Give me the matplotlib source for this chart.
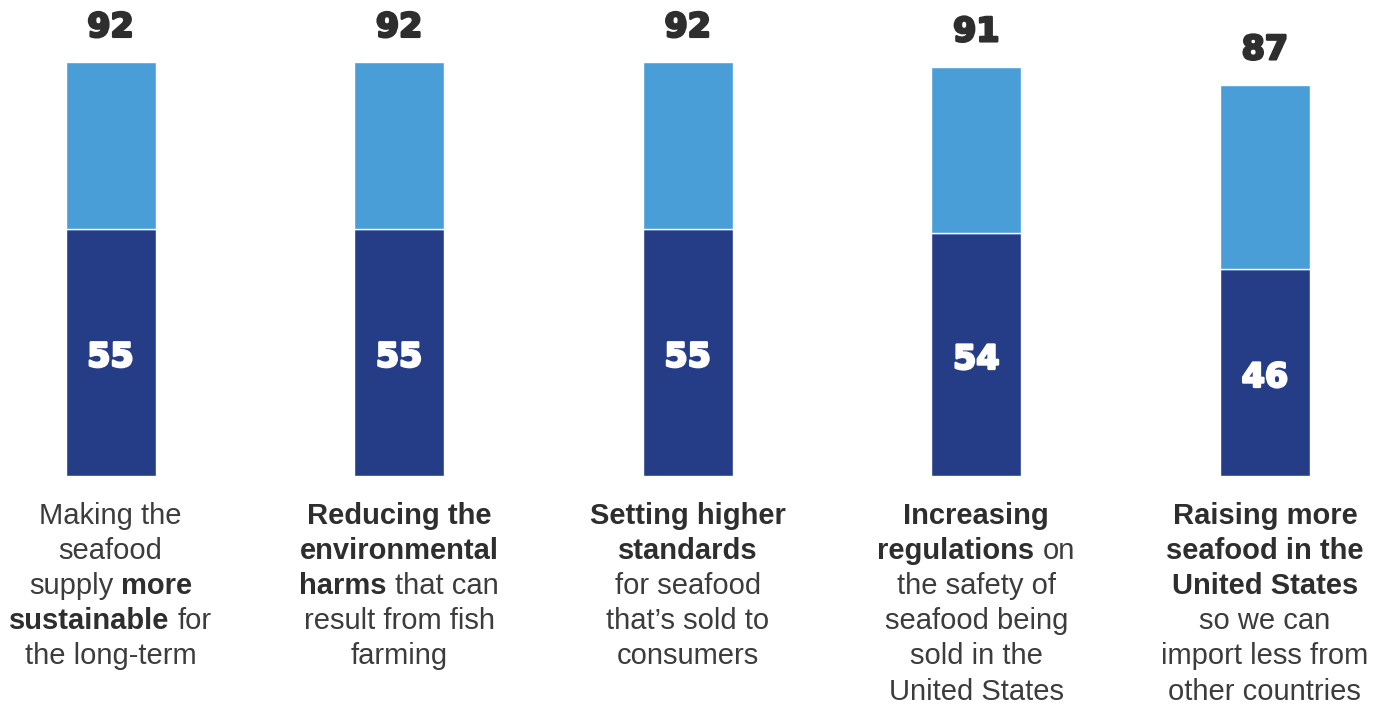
import matplotlib
matplotlib.use("Agg")
import matplotlib.pyplot as plt
import matplotlib.patheffects as pe

# ---- data ----
categories = [
    "Making the seafood supply more sustainable for the long-term",
    "Reducing the environmental harms that can result from fish farming",
    "Setting higher standards for seafood that's sold to consumers",
    "Increasing regulations on the safety of seafood being sold in the United States",
    "Raising more seafood in the United States so we can import less from other countries",
]
strong_support = [55, 55, 55, 54, 46]
total_support = [92, 92, 92, 91, 87]

# label lines: list of (text, bold) segments per line
label_lines = [
    [[("Making the", False)], [("seafood", False)], [("supply", False), ("more", True)],
     [("sustainable", True), ("for", False)], [("the long-term", False)]],
    [[("Reducing the", True)], [("environmental", True)], [("harms", True), ("that can", False)],
     [("result from fish", False)], [("farming", False)]],
    [[("Setting higher", True)], [("standards", True)], [("for seafood", False)],
     [("that\u2019s sold to", False)], [("consumers", False)]],
    [[("Increasing", True)], [("regulations", True), ("on", False)], [("the safety of", False)],
     [("seafood being", False)], [("sold in the", False)], [("United States", False)]],
    [[("Raising more", True)], [("seafood in the", True)], [("United States", True)],
     [("so we can", False)], [("import less from", False)], [("other countries", False)]],
]

DARK = "#253C87"
LIGHT = "#4A9ED8"
NUM_COLOR = "#2E2E2E"
TXT_COLOR = "#3C3C3C"
FONT = "Liberation Sans"
NUM_FONT = "DejaVu Sans"

W, H = 1393, 704
fig = plt.figure(figsize=(W / 100, H / 100), dpi=100)
ax = fig.add_axes([0, 0, 1, 1])
ax.set_axis_off()

# pixel mapping: bar centres at 110.5 + 288.6*i, baseline at y=476 px, 4.5 px per unit
sp = 288.6
ax.set_xlim(-110.5 / sp, (W - 110.5) / sp)
ppu = 4.5
ax.set_ylim(-(H - 476) / ppu, 476 / ppu)

x = list(range(len(categories)))
bw = 90 / sp
weak = [t - s for t, s in zip(total_support, strong_support)]
ax.bar(x, strong_support, width=bw, color=DARK, edgecolor="white", linewidth=1.0)
ax.bar(x, weak, bottom=strong_support, width=bw, color=LIGHT, edgecolor="white", linewidth=1.0)

heavy = [pe.withStroke(linewidth=1.8, foreground=NUM_COLOR)]
heavy_w = [pe.withStroke(linewidth=1.8, foreground="white")]
for xi, s, t in zip(x, strong_support, total_support):
    ax.text(xi, t + 5.6, f"{t}", ha="center", va="baseline", fontsize=24,
            fontfamily=NUM_FONT, fontweight="bold", color=NUM_COLOR, path_effects=heavy)
    ax.text(xi, s / 2 - 3.2, f"{s}", ha="center", va="baseline", fontsize=24,
            fontfamily=NUM_FONT, fontweight="bold", color="white", path_effects=heavy_w)

# ---- mixed-weight category labels ----
fig.canvas.draw()
renderer = fig.canvas.get_renderer()
FS = 21


def text_width(s, bold):
    t = fig.text(0, 0, s, fontsize=FS, fontfamily=FONT,
                 fontweight="bold" if bold else "normal")
    w = t.get_window_extent(renderer).width
    t.remove()
    return w


space_w = text_width("a a", False) - text_width("aa", False)

first_baseline = 523.5
line_gap = 35.2
for xi, lines in zip(x, label_lines):
    cx = ax.transData.transform((xi, 0))[0]
    for k, segs in enumerate(lines):
        ybase = H - (first_baseline + k * line_gap)
        widths = [text_width(s, b) for s, b in segs]
        total = sum(widths) + space_w * (len(segs) - 1)
        left = cx - total / 2
        for (s, b), w in zip(segs, widths):
            fig.text(left / W, ybase / H, s, ha="left", va="baseline", fontsize=FS,
                     fontfamily=FONT, fontweight="bold" if b else "normal",
                     color=NUM_COLOR if b else TXT_COLOR)
            left += w + space_w

fig.savefig("out.png", dpi=100)
